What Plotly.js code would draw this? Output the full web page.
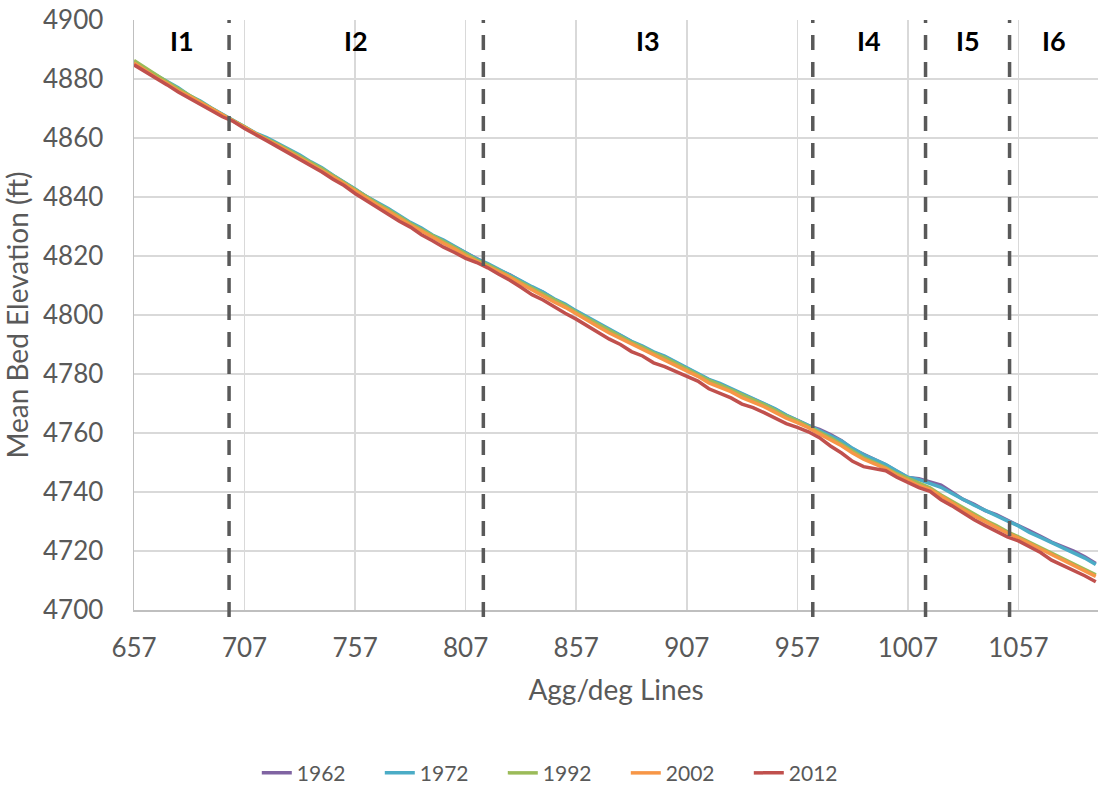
<!DOCTYPE html>
<html>
<head>
<meta charset="utf-8">
<script src="https://cdn.plot.ly/plotly-3.0.1.min.js"></script>
<style>html,body{margin:0;padding:0;background:#fff;}#chart{width:1100px;height:789px;}</style>
</head>
<body>
<div id="chart"></div>
<script>
const aggDegLines = [657,662,667,672,677,682,687,692,697,702,707,712,717,722,727,732,737,742,747,752,757,762,767,772,777,782,787,792,797,802,807,812,817,822,827,832,837,842,847,852,857,862,867,872,877,882,887,892,897,902,907,912,917,922,927,932,937,942,947,952,957,962,967,972,977,982,987,992,997,1002,1007,1012,1017,1022,1027,1032,1037,1042,1047,1052,1057,1062,1067,1072,1077,1082,1087,1092];

const elev1962 = [4885.2,4883.0,4880.6,4878.3,4876.6,4874.0,4872.1,4870.0,4867.6,4865.8,4863.6,4861.5,4859.8,4857.9,4855.8,4853.9,4851.6,4849.6,4847.2,4844.9,4842.4,4840.0,4837.9,4835.8,4833.4,4831.1,4829.2,4826.9,4825.1,4823.1,4820.8,4818.8,4817.1,4815.2,4813.6,4811.4,4809.3,4807.7,4805.3,4803.4,4801.2,4799.1,4797.0,4794.8,4793.0,4790.9,4789.2,4787.3,4785.8,4783.9,4781.9,4780.2,4778.0,4776.5,4774.9,4773.0,4771.5,4769.8,4768.0,4765.9,4764.3,4762.5,4761.2,4759.5,4757.4,4754.6,4752.8,4751.1,4749.2,4747.0,4744.9,4744.5,4743.4,4742.3,4739.9,4737.5,4735.8,4733.7,4732.3,4730.4,4728.4,4726.8,4725.0,4723.0,4721.5,4720.0,4718.0,4715.8];

const elev1972 = [4885.5,4883.4,4881.2,4878.9,4877.0,4874.4,4872.5,4870.2,4868.1,4866.0,4864.0,4861.7,4860.1,4858.2,4856.0,4854.2,4851.9,4849.9,4847.4,4845.2,4842.7,4840.2,4838.2,4836.1,4833.7,4831.4,4829.5,4827.1,4825.4,4823.3,4821.1,4819.0,4817.4,4815.5,4813.8,4811.6,4809.6,4807.8,4805.5,4803.7,4801.4,4799.3,4797.2,4795.0,4793.2,4791.1,4789.5,4787.5,4786.1,4784.1,4782.2,4780.4,4778.2,4776.8,4775.1,4773.2,4771.8,4770.0,4768.2,4766.1,4764.4,4762.6,4761.0,4759.2,4757.3,4754.8,4752.6,4751.0,4749.3,4747.1,4745.0,4744.2,4743.0,4741.6,4739.5,4737.4,4735.5,4733.8,4731.9,4730.2,4728.5,4726.3,4724.6,4722.8,4721.0,4719.4,4717.6,4715.4];

const elev1992 = [4886.3,4883.8,4881.3,4879.0,4876.7,4874.6,4872.3,4870.1,4867.9,4865.9,4863.8,4861.5,4859.8,4857.9,4855.8,4853.8,4851.6,4849.6,4847.2,4844.8,4842.4,4840.0,4837.8,4835.7,4833.3,4831.0,4829.0,4826.8,4824.9,4822.9,4820.6,4818.6,4817.0,4815.0,4813.3,4811.1,4809.1,4807.3,4805.0,4803.2,4800.9,4798.8,4796.7,4794.6,4792.8,4790.7,4789.0,4787.1,4785.6,4783.6,4781.8,4779.9,4777.8,4776.3,4774.7,4772.8,4771.3,4769.6,4767.7,4765.7,4764.1,4762.3,4760.5,4758.4,4756.2,4753.8,4751.6,4750.0,4748.3,4746.2,4744.5,4742.8,4741.4,4739.0,4736.8,4734.5,4732.4,4730.4,4728.6,4726.5,4724.8,4723.0,4721.2,4719.2,4717.4,4715.6,4713.9,4711.9];

const elev2002 = [4885.4,4883.0,4880.5,4878.5,4876.0,4874.1,4872.0,4869.8,4867.5,4865.6,4863.4,4861.2,4859.4,4857.5,4855.4,4853.4,4851.2,4849.2,4846.8,4844.5,4842.0,4839.6,4837.3,4835.2,4832.8,4830.5,4828.5,4826.3,4824.3,4822.4,4820.1,4818.2,4816.5,4814.5,4812.8,4810.6,4808.5,4806.6,4804.4,4802.6,4800.3,4798.1,4796.0,4793.9,4792.1,4790.1,4788.4,4786.4,4784.9,4783.0,4781.1,4779.2,4777.0,4775.6,4774.0,4772.0,4770.5,4768.9,4767.0,4765.0,4763.5,4761.8,4759.7,4757.6,4755.7,4753.2,4751.1,4749.5,4747.9,4745.7,4744.0,4742.2,4740.9,4738.5,4736.3,4734.0,4731.9,4729.9,4728.0,4726.1,4724.4,4722.5,4720.7,4718.7,4716.8,4715.1,4713.3,4711.4];

const elev2012 = [4884.8,4882.6,4880.2,4878.0,4875.6,4873.6,4871.6,4869.3,4867.2,4865.6,4863.2,4861.0,4859.1,4857.0,4854.9,4852.8,4850.6,4848.5,4846.0,4843.9,4841.2,4838.8,4836.6,4834.3,4831.8,4829.8,4827.2,4825.2,4823.0,4821.2,4819.2,4817.8,4816.0,4813.8,4811.8,4809.4,4806.9,4805.1,4802.8,4800.6,4798.6,4796.4,4794.0,4791.8,4790.0,4787.6,4786.1,4783.8,4782.5,4780.8,4779.1,4777.6,4775.0,4773.6,4771.9,4769.8,4768.6,4766.9,4765.1,4763.2,4761.9,4760.4,4758.4,4755.6,4753.2,4750.4,4748.6,4747.9,4747.2,4745.0,4743.2,4741.5,4740.2,4737.4,4735.3,4732.8,4730.6,4728.6,4726.8,4724.8,4723.4,4721.4,4719.5,4716.9,4715.2,4713.2,4711.6,4709.6];

const seriesNames = ['1962','1972','1992','2002','2012'];
const seriesColors = ['#8064A2','#4BACC6','#9BBB59','#F79646','#C0504D'];
const seriesValues = [elev1962, elev1972, elev1992, elev2002, elev2012];

const reachBoundaries = [700, 815, 964, 1015, 1053];
const reachLabels = ['I1','I2','I3','I4','I5','I6'];
const xMin = 657, xMax = 1093;

const traces = seriesNames.map((n,i)=>({
  x: aggDegLines, y: seriesValues[i], name: n, type:'scatter', mode:'lines',
  line:{color:seriesColors[i], width:3.5}
}));

const edges = [xMin].concat(reachBoundaries).concat([xMax]);
const annotations = reachLabels.map((lab,i)=>({
  x:(edges[i]+edges[i+1])/2, xref:'x', y:0.966, yref:'paper', yanchor:'middle', xanchor:'center',
  text:'<b>'+lab+'</b>',
  showarrow:false, font:{family:'Lato, "Open Sans", sans-serif', size:27, color:'#000'}
}));

const shapes = reachBoundaries.map(b=>({
  type:'line', xref:'x', yref:'paper', x0:b, x1:b, y0:-0.012, y1:1,
  line:{color:'#595959', width:3.5, dash:'15px,12px'}
}));

const layout = {
  width:1100, height:789,
  margin:{l:134, r:2, t:20, b:179},
  paper_bgcolor:'#fff', plot_bgcolor:'#fff',
  showlegend:true,
  font:{family:'Lato, "Open Sans", sans-serif', color:'#595959', size:20},
  xaxis:{
    range:[xMin, xMax], tick0:657, dtick:50, tickmode:'linear',
    showgrid:true, gridcolor:'#d9d9d9', gridwidth:1.5,
    showline:true, linecolor:'#bfbfbf', linewidth:1.5,
    zeroline:false, ticks:'outside', ticklen:14, tickcolor:'rgba(0,0,0,0)',
    tickfont:{size:26, color:'#595959'},
    title:{text:'Agg/deg Lines', font:{size:28, color:'#595959'}, standoff:18}
  },
  yaxis:{
    range:[4700, 4900], dtick:20, tickmode:'linear',
    showgrid:true, gridcolor:'#d9d9d9', gridwidth:1.5,
    showline:true, linecolor:'#bfbfbf', linewidth:1.5,
    zeroline:false, ticks:'outside', ticklen:24, tickcolor:'rgba(0,0,0,0)',
    tickfont:{size:26, color:'#595959'},
    title:{text:'Mean Bed Elevation (ft)', font:{size:28, color:'#595959'}, standoff:14}
  },
  legend:{orientation:'h', xref:'container', yref:'container', x:0.513, xanchor:'center', y:0.02, yanchor:'middle',
    font:{size:21, color:'#595959'}, entrywidth:78, entrywidthmode:'pixels'},
  shapes: shapes,
  annotations: annotations
};

Plotly.newPlot('chart', traces, layout, {displayModeBar:false, staticPlot:true});
</script>
</body>
</html>
